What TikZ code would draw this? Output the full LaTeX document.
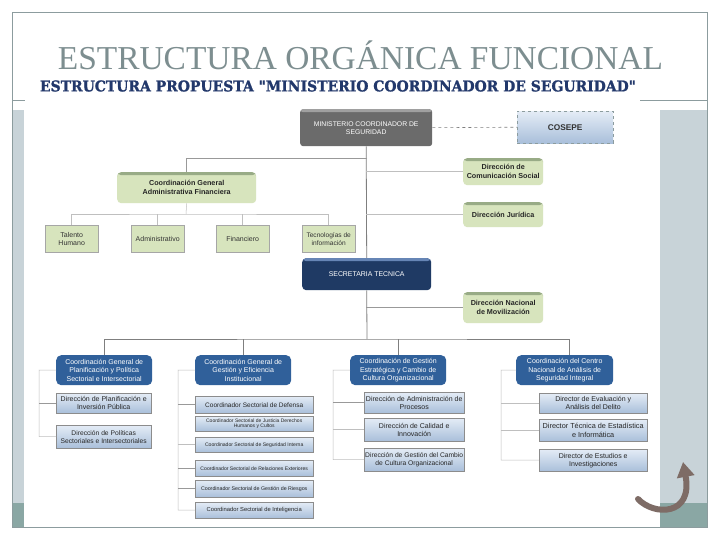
\documentclass[tikz,border=0pt]{standalone}
\usepackage{fontspec}
\setmainfont{Liberation Serif}
\setsansfont{Liberation Sans}
\newfontfamily\slabfont[BoldFeatures={FakeBold=1.2}]{DejaVu Serif}
\usetikzlibrary{shadows,arrows.meta}
\definecolor{frameC}{HTML}{8C9C9E}
\definecolor{barC}{HTML}{C8D3D8}
\definecolor{tealC}{HTML}{8AA7A4}
\definecolor{titleC}{HTML}{7D8E90}
\definecolor{subC}{HTML}{22386B}
\definecolor{minC}{HTML}{6B6B6B}
\definecolor{minTop}{HTML}{A0A0A0}
\definecolor{greenC}{HTML}{D7E4BD}
\definecolor{greenTop}{HTML}{98AB86}
\definecolor{navyC}{HTML}{1F3A64}
\definecolor{navyTop}{HTML}{6685B5}
\definecolor{coordC}{HTML}{30609A}
\definecolor{lbTop}{HTML}{E4ECF6}
\definecolor{lbBot}{HTML}{A9BFDA}
\definecolor{lineC}{HTML}{7F7F7F}
\definecolor{arrowC}{HTML}{7E6C66}
\tikzset{
  box/.style={anchor=north west, inner sep=0pt, align=center, font=\sffamily},
  topstripe/.style={path picture={\fill[#1] (path picture bounding box.north west) rectangle ([yshift=-3pt]path picture bounding box.north east);}},
  minbox/.style={box, rounded corners=3pt, fill=minC, text=white, font=\sffamily\fontsize{6.8}{8}\selectfont, topstripe=minTop},
  cosbox/.style={box, top color=lbTop, bottom color=lbBot, draw=frameC, dashed, font=\sffamily\fontsize{8.3}{10}\selectfont\bfseries, text=black!80},
  gbox/.style={box, rounded corners=4pt, fill=greenC, text=black!85, font=\sffamily\fontsize{7.2}{8.8}\selectfont\bfseries, topstripe=greenTop},
  sgbox/.style={box, fill=greenC, draw=black!35, text=black!80, font=\sffamily\fontsize{7}{8.3}\selectfont},
  secbox/.style={box, rounded corners=4pt, fill=navyC, text=white, font=\sffamily\fontsize{6.9}{8}\selectfont, topstripe=navyTop},
  cbox/.style={box, rounded corners=5pt, fill=coordC, text=white, font=\sffamily\fontsize{7}{8.4}\selectfont},
  lbox/.style={box, top color=lbTop, bottom color=lbBot, draw=black!45, text=black!85, font=\sffamily\fontsize{7}{8}\selectfont, drop shadow={opacity=0.25, shadow xshift=1pt, shadow yshift=-1pt}},
  slbox/.style={lbox, font=\sffamily\fontsize{5.1}{5.9}\selectfont},
  mainline/.style={draw=lineC, line width=0.8pt},
  thinline/.style={draw=lineC!80, line width=0.5pt},
  paleline/.style={draw=black!25, line width=0.5pt},
}
\begin{document}
\begin{tikzpicture}[x=1pt,y=-1pt]
\useasboundingbox (0,0) rectangle (720,540);
\fill[white] (0,0) rectangle (720,540);
% side bars
\fill[barC] (12,110) rectangle (24,503);
\fill[tealC] (12,503) rectangle (24,527);
\fill[barC] (660,110) rectangle (707,503);
\fill[tealC] (660,503) rectangle (707,527);
% frame lines
\draw[frameC, line width=0.8pt] (12,527) -- (12,12) -- (707,12) -- (707,527) -- (12,527);
\draw[frameC, line width=0.8pt] (12,100) -- (25,100);
\draw[frameC, line width=0.8pt] (640,100) -- (707,100);
% titles
\node[text=titleC, inner sep=0pt] (title) at (360.5,55) {\resizebox{605pt}{!}{ESTRUCTURA ORGÁNICA FUNCIONAL}};
\node[text=subC, inner sep=0pt] (subtitle) at (338,86) {\resizebox{596pt}{11pt}{\slabfont\bfseries ESTRUCTURA PROPUESTA "MINISTERIO COORDINADOR DE SEGURIDAD"}};

% top nodes
\node[minbox, minimum width=132pt, minimum height=37pt] (min) at (300,109) {MINISTERIO COORDINADOR DE\\SEGURIDAD};
\node[cosbox, minimum width=96pt, minimum height=32pt] (cos) at (517,111) {COSEPE};
\draw[lineC, dashed, line width=0.6pt] (min.east) -- (cos.west);

\node[gbox, minimum width=139pt, minimum height=31pt] (cgaf) at (117,172) {Coordinación General\\Administrativa Financiera};
\node[sgbox, minimum width=53pt, minimum height=27pt] (th) at (45,225) {Talento\\Humano};
\node[sgbox, minimum width=53pt, minimum height=27pt] (adm) at (131,225) {Administrativo};
\node[sgbox, minimum width=53pt, minimum height=27pt] (fin) at (216,225) {Financiero};
\node[sgbox, minimum width=53pt, minimum height=27pt, font=\sffamily\fontsize{6.6}{8}\selectfont] (tec) at (302,225) {Tecnologías de\\información};

\node[gbox, minimum width=80pt, minimum height=27pt] (dcs) at (463,158) {Dirección de\\Comunicación Social};
\node[gbox, minimum width=80pt, minimum height=25pt] (dj) at (463,202) {Dirección Jurídica};

\node[secbox, minimum width=129pt, minimum height=32pt] (sec) at (302,258) {SECRETARIA TECNICA};
\node[gbox, minimum width=80pt, minimum height=31pt] (dnm) at (463,292) {Dirección Nacional\\de Movilización};

% main vertical
\coordinate (bus) at (367,339);
\draw[mainline] (min.south) -- (sec.north);
\draw[mainline] (sec.south) -- (bus);
% left branch
\coordinate (j1) at (367,158);
\draw[thinline] (j1) -| (cgaf.north);
\coordinate (bus2) at (186,214);
\draw[paleline] (cgaf.south) -- (bus2);
\draw[paleline] (th.north) |- (bus2) -| (tec.north);
\draw[paleline] (adm.north) -- (adm.north |- bus2);
\draw[paleline] (fin.north) -- (fin.north |- bus2);
% right branch
\draw[paleline] (min.south |- dcs.west) -- (dcs.west);
\draw[paleline] (min.south |- dj.west) -- (dj.west);
\draw[thinline] (min.south |- dnm.west) -- (dnm.west);

% bottom coordinations
\node[cbox, minimum width=96pt, minimum height=30pt] (cp1) at (56,355) {Coordinación General de\\Planificación y Política\\Sectorial e Intersectorial};
\node[cbox, minimum width=96pt, minimum height=30pt] (cp2) at (195,355) {Coordinación General de\\Gestión y Eficiencia\\Institucional};
\node[cbox, minimum width=96pt, minimum height=30pt] (cp3) at (350,355) {Coordinación de Gestión\\Estratégica y Cambio de\\Cultura Organizacional};
\node[cbox, minimum width=97pt, minimum height=30pt] (cp4) at (516,355) {Coordinación del Centro\\Nacional de Análisis de\\Seguridad Integral};

\draw[mainline] (cp1.north) |- (bus) -| ([xshift=5pt]cp4.north);
\draw[mainline] (cp2.north) -- (cp2.north |- bus);
\draw[mainline] (cp3.north) -- (cp3.north |- bus);

% column 1 children
\node[lbox, minimum width=95pt, minimum height=20pt] (d11) at (56,393) {Dirección de Planificación e\\Inversión Pública};
\node[lbox, minimum width=95pt, minimum height=23pt, font=\sffamily\fontsize{6.7}{8}\selectfont] (d12) at (56,425) {Dirección de Políticas\\Sectoriales e Intersectoriales};
\coordinate (b1) at (39,370);
\draw[paleline] (cp1.west) -- (b1) |- (d12.west);
\draw[thinline] (d11.west) -- (d11.west -| b1);

% column 2 children
\node[slbox, minimum width=118pt, minimum height=17pt, font=\sffamily\fontsize{6.5}{7.5}\selectfont] (d21) at (195,396) {Coordinador Sectorial de Defensa};
\node[slbox, minimum width=118pt, minimum height=15pt, font=\sffamily\fontsize{5}{5.8}\selectfont] (d22) at (195,416) {Coordinador Sectorial de Justicia Derechos\\Humanos y Cultos};
\node[slbox, minimum width=118pt, minimum height=15pt] (d23) at (195,437) {Coordinador Sectorial de Seguridad Interna};
\node[slbox, minimum width=118pt, minimum height=16pt] (d24) at (195,460) {Coordinador Sectorial de Relaciones Exteriores};
\node[slbox, minimum width=118pt, minimum height=17pt, font=\sffamily\fontsize{5.3}{6}\selectfont] (d25) at (195,480) {Coordinador Sectorial de Gestión de Riesgos};
\node[slbox, minimum width=118pt, minimum height=16pt, font=\sffamily\fontsize{5.8}{6.6}\selectfont] (d26) at (195,502) {Coordinador Sectorial de Inteligencia};
\coordinate (b2) at (178,370);
\draw[paleline] (cp2.west) -- (b2) |- (d26.west);
\draw[thinline] (d21.west) -- (d21.west -| b2);
\draw[paleline] (d23.west) -- (d23.west -| b2);
\draw[thinline] (d24.west) -- (d24.west -| b2);
\draw[thinline] (d25.west) -- (d25.west -| b2);

% column 3 children
\node[lbox, minimum width=100pt, minimum height=21pt] (d31) at (364,392) {Dirección de Administración de\\Procesos};
\node[lbox, minimum width=100pt, minimum height=23pt] (d32) at (364,418) {Dirección de Calidad e\\Innovación};
\node[lbox, minimum width=100pt, minimum height=23pt, font=\sffamily\fontsize{6.7}{8}\selectfont] (d33) at (364,448) {Dirección de Gestión del Cambio\\de Cultura Organizacional};
\coordinate (b3) at (333,370);
\draw[paleline] (cp3.west) -- (b3) |- (d33.west);
\draw[thinline] (d31.west) -- (d31.west -| b3);
\draw[paleline] (d32.west) -- (d32.west -| b3);

% column 4 children
\node[lbox, minimum width=108pt, minimum height=20pt] (d41) at (539,393) {Director de Evaluación y\\Análisis del Delito};
\node[lbox, minimum width=108pt, minimum height=22pt, font=\sffamily\fontsize{7.3}{8.3}\selectfont] (d42) at (539,419) {Director Técnica de Estadística\\e Informática};
\node[lbox, minimum width=108pt, minimum height=22pt] (d43) at (539,449) {Director de Estudios e\\Investigaciones};
\coordinate (b4) at (501,370);
\draw[paleline] (cp4.west) -- (b4) |- (d43.west);
\draw[paleline] (d41.west) -- (d41.west -| b4);
\draw[paleline] (d42.west) -- (d42.west -| b4);

% curved arrow
\coordinate (atail) at (638,499);
\coordinate (ahead) at (683,462);
\draw[arrowC, line width=6pt, line cap=round, -{Triangle[width=17pt,length=15pt]}] (atail) .. controls (654,516) and (693,516) .. (ahead);
\end{tikzpicture}
\end{document}
